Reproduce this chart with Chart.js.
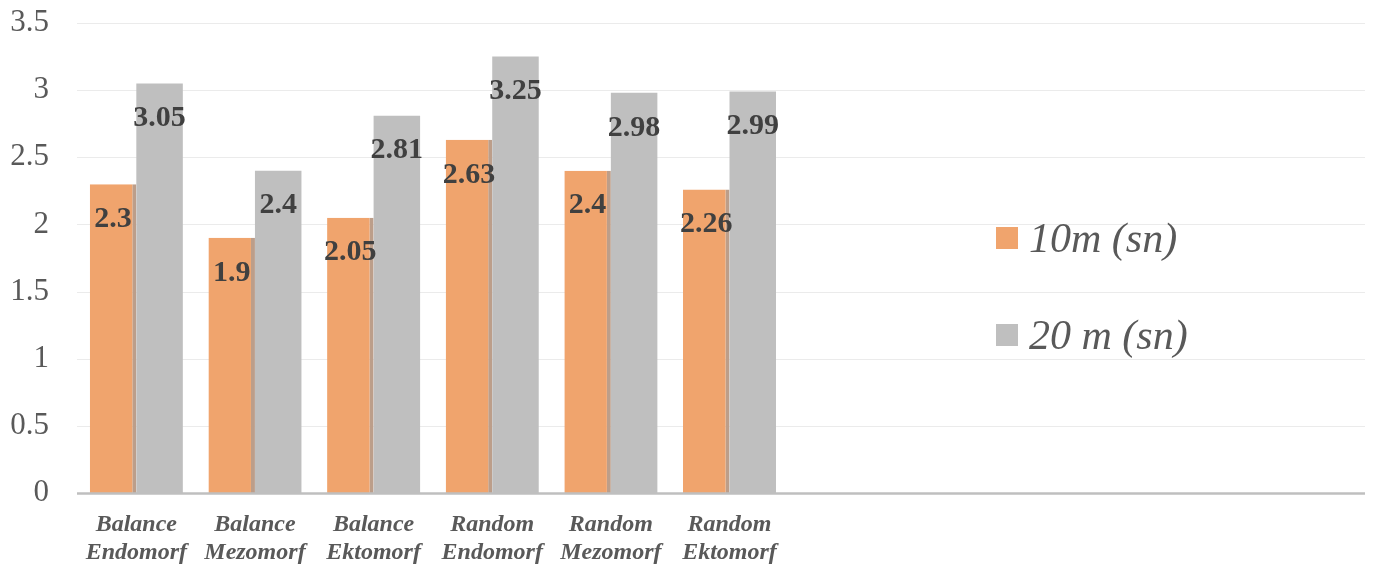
<!DOCTYPE html>
<html>
<head>
<meta charset="utf-8">
<script src="https://cdn.jsdelivr.net/npm/chart.js@4/dist/chart.umd.min.js"></script>
<style>
  html, body { margin: 0; padding: 0; background: #ffffff; }
  #wrap { width: 1382px; height: 567px; position: relative; }
</style>
</head>
<body>
<div id="wrap"><canvas id="c" width="1382" height="567"></canvas></div>
<script>
// Categories (the trailing blanks keep the empty space to the right of the groups)
const categories = [
  ['Balance', 'Endomorf'],
  ['Balance', 'Mezomorf'],
  ['Balance', 'Ektomorf'],
  ['Random', 'Endomorf'],
  ['Random', 'Mezomorf'],
  ['Random', 'Ektomorf'],
  '', '', '', '', ''
];
const seriesNames = ['10m (sn)', '20 m (sn)'];
const sprint10 = [2.3, 1.9, 2.05, 2.63, 2.4, 2.26, null, null, null, null, null];
const sprint20 = [3.05, 2.4, 2.81, 3.25, 2.98, 2.99, null, null, null, null, null];
const yTicks = [0, 0.5, 1, 1.5, 2, 2.5, 3, 3.5];

const SERIF = "'Liberation Serif', 'Times New Roman', serif";
const ORANGE = '#F0A46D';
const GREY = '#BFBFBF';
const AXIS_END = 1365;

// Horizontal gridlines and the baseline, stopping short of the right edge
const gridPlugin = {
  id: 'gridLines',
  beforeDatasetsDraw(chart) {
    const { ctx, chartArea, scales } = chart;
    ctx.save();
    ctx.strokeStyle = '#EBEBEB';
    ctx.lineWidth = 1;
    yTicks.forEach(v => {
      if (v === 0) return;
      const y = Math.round(scales.y.getPixelForValue(v)) + 0.5;
      ctx.beginPath();
      ctx.moveTo(chartArea.left, y);
      ctx.lineTo(AXIS_END, y);
      ctx.stroke();
    });
    ctx.restore();
  },
  afterDatasetsDraw(chart) {
    const { ctx, chartArea, scales } = chart;
    const y = scales.y.getPixelForValue(0);
    ctx.save();
    ctx.strokeStyle = '#BFBFBF';
    ctx.lineWidth = 2.5;
    ctx.beginPath();
    ctx.moveTo(chartArea.left, y + 0.5);
    ctx.lineTo(AXIS_END, y + 0.5);
    ctx.stroke();
    ctx.restore();
  }
};

// Value labels just inside the top of each bar
const valueLabels = {
  id: 'valueLabels',
  afterDatasetsDraw(chart) {
    const { ctx } = chart;
    ctx.save();
    ctx.font = 'bold 30px ' + SERIF;
    ctx.fillStyle = '#404040';
    ctx.textAlign = 'center';
    ctx.textBaseline = 'middle';
    chart.data.datasets.forEach((ds, i) => {
      const meta = chart.getDatasetMeta(i);
      meta.data.forEach((el, j) => {
        const v = ds.data[j];
        if (v === null || v === undefined) return;
        ctx.fillText(String(v), el.x, el.y + 35);
      });
    });
    ctx.restore();
  }
};

// Legend drawn inside the empty right-hand part of the plot
const sideLegend = {
  id: 'sideLegend',
  afterDraw(chart) {
    const { ctx } = chart;
    ctx.save();
    ctx.font = 'italic 42px ' + SERIF;
    ctx.textAlign = 'left';
    ctx.textBaseline = 'alphabetic';
    chart.data.datasets.forEach((ds, i) => {
      const cy = 238 + i * 97;
      ctx.fillStyle = ds.backgroundColor;
      ctx.fillRect(996, cy - 11, 22, 22);
      ctx.fillStyle = '#595959';
      ctx.fillText(ds.label, 1029, cy + 14);
    });
    ctx.restore();
  }
};

new Chart(document.getElementById('c'), {
  type: 'bar',
  data: {
    labels: categories,
    datasets: [
      {
        label: seriesNames[0],
        data: sprint10,
        backgroundColor: ORANGE,
        borderColor: '#BC9E8A',
        borderWidth: { top: 0, right: 4, bottom: 0, left: 0 },
        borderSkipped: false,
        categoryPercentage: 0.784,
        barPercentage: 1.0
      },
      {
        label: seriesNames[1],
        data: sprint20,
        backgroundColor: GREY,
        borderWidth: 0,
        categoryPercentage: 0.784,
        barPercentage: 1.0
      }
    ]
  },
  options: {
    responsive: false,
    animation: false,
    devicePixelRatio: 1,
    layout: { padding: { top: 23, right: 0, bottom: 0, left: 0 } },
    plugins: {
      legend: { display: false },
      tooltip: { enabled: false }
    },
    scales: {
      x: {
        grid: { display: false, drawTicks: false },
        border: { display: false },
        ticks: {
          color: '#595959',
          font: { family: SERIF, size: 24, style: 'italic', weight: 'bold', lineHeight: 1.15 },
          padding: 18,
          maxRotation: 0,
          autoSkip: false
        },
        afterFit(scale) {
          scale.height = 74;
          scale.paddingLeft = 0;
          scale.paddingRight = 0;
        }
      },
      y: {
        min: 0,
        max: 3.5,
        grid: { display: false, drawTicks: false },
        border: { display: false },
        ticks: {
          stepSize: 0.5,
          color: '#595959',
          font: { family: SERIF, size: 31 },
          padding: 28,
          callback: v => String(v)
        },
        afterFit(scale) {
          scale.width = 77;
          scale.paddingTop = 0;
          scale.paddingBottom = 0;
        }
      }
    }
  },
  plugins: [gridPlugin, valueLabels, sideLegend]
});
</script>
</body>
</html>
